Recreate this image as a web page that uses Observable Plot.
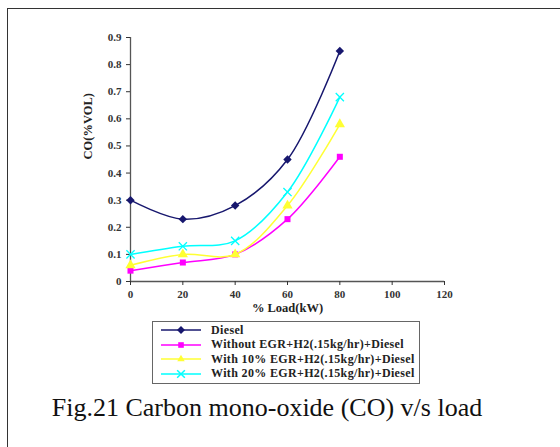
<!DOCTYPE html>
<html><head><meta charset="utf-8">
<script src="https://cdn.jsdelivr.net/npm/d3@7"></script>
<script src="https://cdn.jsdelivr.net/npm/@observablehq/plot@0.6"></script>
<style>
body{margin:0;background:#fff;width:560px;height:447px;overflow:hidden;position:relative;font-family:"Liberation Serif",serif}
#frame{position:absolute;left:7px;top:8px;width:600px;height:500px;border:1.5px solid #333;box-sizing:border-box}
#chart{position:absolute;left:0;top:0}
#legend{position:absolute;left:152px;top:321px;width:268px;height:63px;border:1.5px solid #666;box-sizing:border-box;font-weight:bold;font-size:12px;letter-spacing:0.35px;color:#222}
.row{position:absolute;left:6px;height:14px;display:flex;align-items:center}
.row span{margin-left:8px;white-space:nowrap}
#caption{position:absolute;left:0;width:534px;top:393px;text-align:center;font-size:26px;color:#111}
</style></head>
<body>
<div id="frame"></div>
<div id="chart"></div>
<div id="legend"></div>
<div id="caption">Fig.21 Carbon mono-oxide (CO) v/s load</div>
<script>
const loads = [0, 20, 40, 60, 80];
const seriesNames = ["Diesel","Without EGR+H2(.15kg/hr)+Diesel","With 10% EGR+H2(.15kg/hr)+Diesel","With 20% EGR+H2(.15kg/hr)+Diesel"];
const diesel = [0.30, 0.23, 0.28, 0.45, 0.85];
const withoutEGR = [0.04, 0.07, 0.10, 0.23, 0.46];
const egr10 = [0.06, 0.10, 0.10, 0.28, 0.58];
const egr20 = [0.10, 0.13, 0.15, 0.33, 0.68];
const colors = ["#17176e", "#ff00ff", "#ffff33", "#00ffff"];
const symbols = ["diamond2", "square", "triangle", "times"];
const yTicks = [0,0.1,0.2,0.3,0.4,0.5,0.6,0.7,0.8,0.9];
const xTicks = [0,20,40,60,80,100,120];

const all = [diesel, withoutEGR, egr10, egr20];
const data = [];
all.forEach((vals, si) => vals.forEach((v, i) => data.push({s: si, x: loads[i], y: v})));

const marks = [
  Plot.ruleX([0], {stroke: "#555", strokeWidth: 1.3}),
  Plot.ruleY([0], {stroke: "#555", strokeWidth: 1.3}),
  Plot.axisY({ticks: yTicks, tickSize: 4, tickFormat: d => d === 0 ? "0" : d.toFixed(1), label: null}),
  Plot.axisX({ticks: xTicks, tickSize: 4, label: null}),
  Plot.text(["CO(%VOL)"], {frameAnchor: "left", dx: -43, rotate: -90, fontSize: 12.5, fontWeight: "bold", fill: "#222"}),
  Plot.text(["% Load(kW)"], {frameAnchor: "bottom", dy: 30, fontSize: 12.5, fontWeight: "bold", fill: "#222"}),
];
all.forEach((vals, si) => {
  const d = data.filter(r => r.s === si);
  marks.push(Plot.line(d, {x: "x", y: "y", stroke: colors[si], strokeWidth: 1.5, curve: "catmull-rom"}));
  if (symbols[si] === "times")
    marks.push(Plot.dot(d, {x: "x", y: "y", symbol: "times", stroke: colors[si], strokeWidth: 1.3, r: 3.8}));
  else
    marks.push(Plot.dot(d, {x: "x", y: "y", symbol: symbols[si], fill: colors[si], stroke: "none", r: symbols[si]==="square"?3.4:3.8}));
});

const chart = Plot.plot({
  width: 560, height: 320,
  marginLeft: 130, marginRight: 116, marginTop: 37, marginBottom: 39,
  x: {domain: [0, 120]},
  y: {domain: [0, 0.9]},
  style: {fontFamily: "Liberation Serif, serif", fontSize: "11px", fontWeight: "bold", color: "#333", background: "transparent"},
  marks
});
document.getElementById("chart").appendChild(chart);

// legend
const legend = document.getElementById("legend");
seriesNames.forEach((name, si) => {
  const row = document.createElement("div");
  row.className = "row";
  row.style.top = (1 + si * 14.5) + "px";
  const sym = d3.symbol().type({diamond2: d3.symbolDiamond2, square: d3.symbolSquare2, triangle: d3.symbolTriangle2, times: d3.symbolTimes}[symbols[si]]).size(symbols[si]==="times"?40:40)();
  const filled = symbols[si] !== "times";
  row.innerHTML = `<svg width="44" height="12"><line x1="2" x2="42" y1="6" y2="6" stroke="${colors[si]}" stroke-width="1.5"/><path transform="translate(22,6)" d="${sym}" fill="${filled?colors[si]:"none"}" stroke="${filled?"none":colors[si]}" stroke-width="1.5"/></svg><span>${name}</span>`;
  legend.appendChild(row);
});
</script>
</body></html>
